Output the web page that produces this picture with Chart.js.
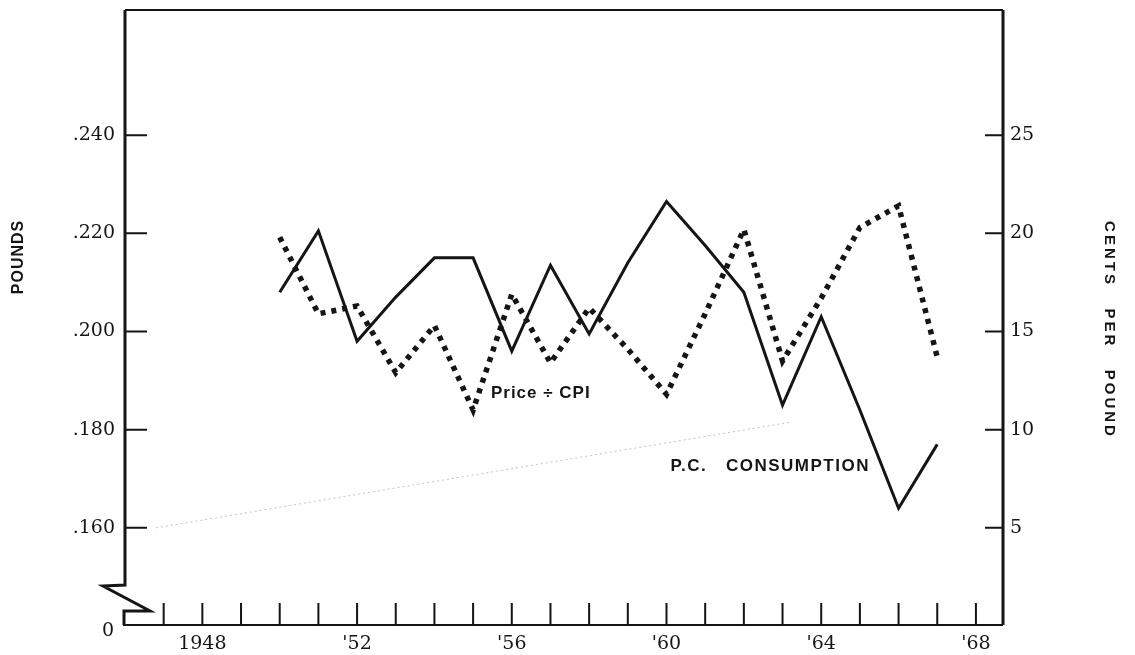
<!DOCTYPE html>
<html>
<head>
<meta charset="utf-8">
<script src="https://cdn.jsdelivr.net/npm/chart.js@4.4.1/dist/chart.umd.min.js"></script>
<style>
  html, body { margin: 0; padding: 0; background: #fff; }
</style>
</head>
<body>
<canvas id="myChart" width="1135" height="655"></canvas>
<script>
// data
const years = [1950, 1951, 1952, 1953, 1954, 1955, 1956, 1957, 1958, 1959, 1960, 1961, 1962, 1963, 1964, 1965, 1966, 1967];
const consumption = [0.208, 0.2205, 0.198, 0.207, 0.215, 0.215, 0.196, 0.2135, 0.1995, 0.214, 0.2265, 0.2175, 0.208, 0.185, 0.203, 0.184, 0.164, 0.177];
const priceCpi = [19.8, 15.9, 16.3, 12.9, 15.3, 11.0, 16.9, 13.4, 16.2, 14.1, 11.8, 15.9, 20.2, 13.5, 16.7, 20.3, 21.4, 13.7];

// faint line running up from the .160 tick
const faintYears = [1946.8, 1963.2];
const faintPounds = [0.160, 0.1815];

const poundTicks = [0.16, 0.18, 0.20, 0.22, 0.24];
const centTicks = [5, 10, 15, 20, 25];
const yearTicks = [1947, 1948, 1949, 1950, 1951, 1952, 1953, 1954, 1955, 1956, 1957, 1958, 1959, 1960, 1961, 1962, 1963, 1964, 1965, 1966, 1967, 1968];
const labelledYears = [1948, 1952, 1956, 1960, 1964, 1968];
const yearLabels = ['1948', "'52", "'56", "'60", "'64", "'68"];

const notes = [
    { text: 'Price \u00F7 CPI', year: 1956.75, pounds: 0.1875 },
    { text: 'P.C.   CONSUMPTION', year: 1962.68, pounds: 0.1726 }
];

const poundMin = 0.1402;
const poundMax = 0.2655;
// right axis: 0 cents sits at .140 pounds, 5 cents per .020
const toCents = (p) => (p - 0.14) * 250;

const ink = '#151515';
const tickFont = { family: '"DejaVu Serif", serif', size: 19 };

const axesPlugin = {
    id: 'oldAxes',
    beforeDraw(chart) {
        const ctx = chart.ctx;
        ctx.save();
        ctx.fillStyle = '#fff';
        ctx.fillRect(0, 0, chart.width, chart.height);
        ctx.restore();
    },
    afterDraw(chart) {
        const ctx = chart.ctx;
        const { left, right, top, bottom } = chart.chartArea;
        const xS = chart.scales.x, yS = chart.scales.y, y2S = chart.scales.y2;
        ctx.save();
        ctx.strokeStyle = ink;
        ctx.lineCap = 'butt';

        // frame with the broken left axis
        ctx.lineWidth = 2;
        ctx.beginPath();
        ctx.moveTo(left, top);
        ctx.lineTo(right, top);
        ctx.stroke();

        ctx.lineWidth = 3;
        ctx.beginPath();
        ctx.moveTo(right, top);
        ctx.lineTo(right, bottom);
        ctx.stroke();

        ctx.beginPath();
        ctx.moveTo(left, top);
        ctx.lineTo(left, bottom - 40);
        ctx.lineTo(left - 22, bottom - 39);
        ctx.lineTo(left + 25, bottom - 14);
        ctx.lineTo(left - 1, bottom - 14);
        ctx.lineTo(left - 1, bottom);
        ctx.stroke();

        ctx.lineWidth = 2;
        ctx.beginPath();
        ctx.moveTo(left - 2, bottom);
        ctx.lineTo(right, bottom);
        ctx.stroke();

        // tick marks point into the plot
        ctx.lineWidth = 2;
        ctx.beginPath();
        poundTicks.forEach(v => {
            const py = yS.getPixelForValue(v);
            ctx.moveTo(left, py);
            ctx.lineTo(left + 22, py);
        });
        centTicks.forEach(v => {
            const py = y2S.getPixelForValue(v);
            ctx.moveTo(right - 18, py);
            ctx.lineTo(right, py);
        });
        yearTicks.forEach(v => {
            const px = xS.getPixelForValue(v);
            ctx.moveTo(px, bottom);
            ctx.lineTo(px, bottom - 22);
        });
        ctx.stroke();

        ctx.fillStyle = ink;
        ctx.textBaseline = 'middle';

        // the broken axis starts at 0
        ctx.font = '19px "DejaVu Serif", serif';
        ctx.textAlign = 'right';
        ctx.fillText('0', left - 11, bottom + 6);

        // labels on the lines
        ctx.font = 'bold 17px "Liberation Sans", Arial, sans-serif';
        ctx.textAlign = 'center';
        ctx.letterSpacing = '1px';
        ctx.fillText(notes[0].text, xS.getPixelForValue(notes[0].year), yS.getPixelForValue(notes[0].pounds));
        ctx.letterSpacing = '1.5px';
        ctx.fillText(notes[1].text, xS.getPixelForValue(notes[1].year), yS.getPixelForValue(notes[1].pounds));

        // axis titles
        ctx.font = 'bold 16px "Liberation Sans", Arial, sans-serif';
        ctx.letterSpacing = '1px';
        ctx.save();
        ctx.translate(19, 257);
        ctx.rotate(-Math.PI / 2);
        ctx.fillText('POUNDS', 0, 0);
        ctx.restore();

        ctx.font = 'bold 15px "Liberation Sans", Arial, sans-serif';
        ctx.letterSpacing = '3px';
        ctx.save();
        ctx.translate(1109, 330);
        ctx.rotate(Math.PI / 2);
        ctx.fillText('CENTS   PER   POUND', 0, 0);
        ctx.restore();

        ctx.restore();
    }
};

const myChart = new Chart(document.getElementById('myChart'), {
    type: 'line',
    data: {
        datasets: [
            {
                label: 'P.C. Consumption',
                data: years.map((yr, i) => ({ x: yr, y: consumption[i] })),
                yAxisID: 'y',
                borderColor: ink,
                borderWidth: 3,
                pointRadius: 0,
                tension: 0
            },
            {
                label: 'Price \u00F7 CPI',
                data: years.map((yr, i) => ({ x: yr, y: priceCpi[i] })),
                yAxisID: 'y2',
                borderColor: ink,
                borderWidth: 5.5,
                borderDash: [5, 6],
                borderCapStyle: 'butt',
                pointRadius: 0,
                tension: 0
            },
            {
                label: 'faint',
                data: faintYears.map((yr, i) => ({ x: yr, y: faintPounds[i] })),
                yAxisID: 'y',
                borderColor: '#c4c4c4',
                borderWidth: 1,
                borderDash: [2, 3],
                pointRadius: 0
            }
        ]
    },
    options: {
        responsive: false,
        animation: false,
        layout: { padding: { top: 10, left: 0, right: 0, bottom: 0 } },
        plugins: { legend: { display: false }, tooltip: { enabled: false } },
        scales: {
            x: {
                type: 'linear',
                min: 1946,
                max: 1968.7,
                grid: { display: false, drawTicks: false },
                border: { display: false },
                afterBuildTicks: (s) => { s.ticks = yearTicks.map(v => ({ value: v })); },
                afterFit: (s) => { s.height = 30; s.paddingLeft = 0; s.paddingRight = 0; },
                ticks: {
                    autoSkip: false,
                    maxRotation: 0,
                    padding: 8,
                    color: ink,
                    font: tickFont,
                    callback: (v) => {
                        const i = labelledYears.indexOf(v);
                        return i >= 0 ? yearLabels[i] : '';
                    }
                }
            },
            y: {
                position: 'left',
                min: poundMin,
                max: poundMax,
                grid: { display: false, drawTicks: false },
                border: { display: false },
                afterBuildTicks: (s) => { s.ticks = poundTicks.map(v => ({ value: v })); },
                afterFit: (s) => { s.width = 125; s.paddingTop = 0; s.paddingBottom = 0; },
                ticks: {
                    padding: 10,
                    color: ink,
                    font: tickFont,
                    callback: (v) => '.' + Math.round(v * 1000)
                }
            },
            y2: {
                position: 'right',
                min: toCents(poundMin),
                max: toCents(poundMax),
                grid: { display: false, drawTicks: false },
                border: { display: false },
                afterBuildTicks: (s) => { s.ticks = centTicks.map(v => ({ value: v })); },
                afterFit: (s) => { s.width = 132; s.paddingTop = 0; s.paddingBottom = 0; },
                ticks: {
                    padding: 7,
                    color: ink,
                    font: tickFont
                }
            }
        }
    },
    plugins: [axesPlugin]
});
</script>
</body>
</html>
